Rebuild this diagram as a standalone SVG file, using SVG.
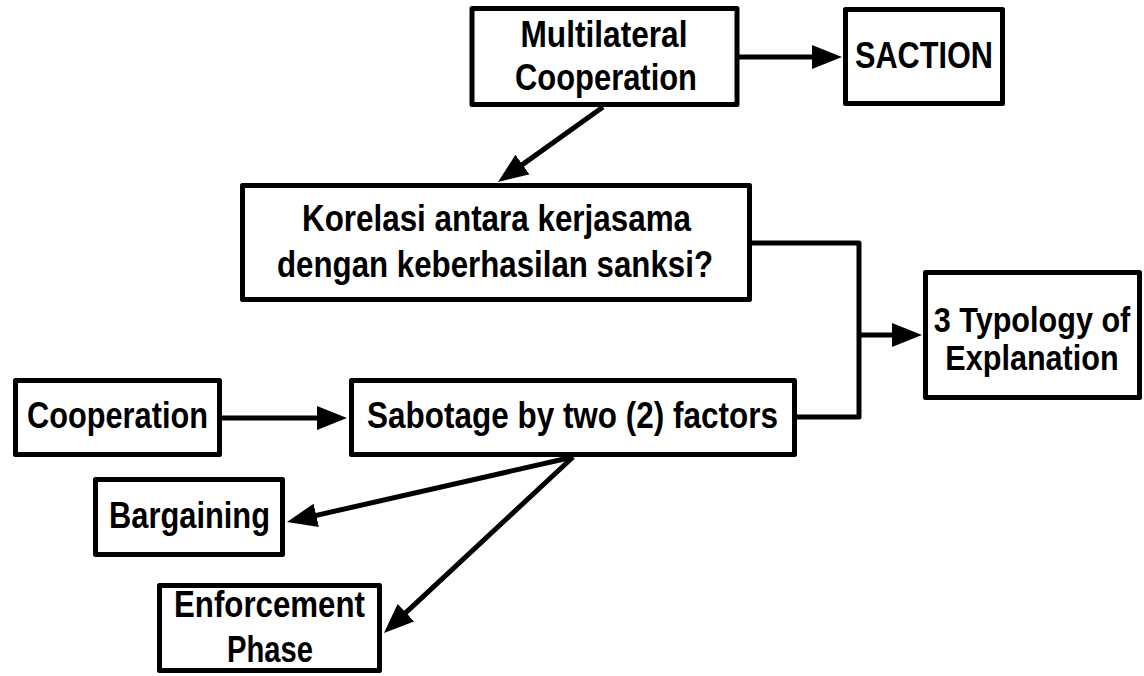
<svg xmlns="http://www.w3.org/2000/svg" width="1144" height="676" viewBox="0 0 1144 676">
<style>
.box{fill:#fff;stroke:#000;stroke-width:5;stroke-linejoin:round}
.lbl{font-family:"Liberation Sans",Arial,sans-serif;font-weight:bold;font-size:36px;fill:#000;text-anchor:middle}
.conn{fill:none;stroke:#000;stroke-width:5;stroke-linejoin:round}
</style>
<defs>
<marker id="ah" markerUnits="userSpaceOnUse" markerWidth="32" markerHeight="26" refX="10" refY="12" orient="auto">
<path d="M0,0 L30,12 L0,24 Z" fill="#000"/>
</marker>
</defs>
<rect width="1144" height="676" fill="#fff"/>
<g id="connectors">
<line class="conn" x1="739" y1="57" x2="822" y2="57" marker-end="url(#ah)"/>
<line class="conn" x1="603" y1="107" x2="514.3" y2="170.4" marker-end="url(#ah)"/>
<polyline class="conn" points="752,243 859,243 859,417 797,417"/>
<line class="conn" x1="859" y1="335" x2="902" y2="335" marker-end="url(#ah)"/>
<line class="conn" x1="222" y1="418" x2="327" y2="418" marker-end="url(#ah)"/>
<line class="conn" x1="573" y1="457" x2="306.5" y2="517.6" marker-end="url(#ah)"/>
<line class="conn" x1="573" y1="457" x2="398.6" y2="619.4" marker-end="url(#ah)"/>
</g>
<g id="node-multilateral">
<rect class="box" x="472" y="8.5" width="265" height="96"/>
<text class="lbl" x="604" y="47" textLength="167" lengthAdjust="spacingAndGlyphs">Multilateral</text>
<text class="lbl" x="606" y="90" textLength="182" lengthAdjust="spacingAndGlyphs">Cooperation</text>
</g>
<g id="node-saction">
<rect class="box" x="845.5" y="9.5" width="157" height="94"/>
<text class="lbl" x="924" y="68" textLength="138" lengthAdjust="spacingAndGlyphs">SACTION</text>
</g>
<g id="node-korelasi">
<rect class="box" x="242.5" y="185.5" width="507" height="114"/>
<text class="lbl" x="496.5" y="231" textLength="389" lengthAdjust="spacingAndGlyphs">Korelasi antara kerjasama</text>
<text class="lbl" x="495" y="277" textLength="436" lengthAdjust="spacingAndGlyphs">dengan keberhasilan sanksi?</text>
</g>
<g id="node-typology">
<rect class="box" x="925.5" y="272.5" width="214" height="125"/>
<g transform="translate(1032,0) scale(0.85,1)">
<text class="lbl" x="0" y="332">3 Typology of</text>
<text class="lbl" x="0" y="370">Explanation</text>
</g>
</g>
<g id="node-cooperation">
<rect class="box" x="15.5" y="380.5" width="204" height="74"/>
<text class="lbl" x="117.5" y="428" textLength="181" lengthAdjust="spacingAndGlyphs">Cooperation</text>
</g>
<g id="node-sabotage">
<rect class="box" x="351.5" y="380.5" width="443" height="74"/>
<text class="lbl" x="572.5" y="428" textLength="411" lengthAdjust="spacingAndGlyphs">Sabotage by two (2) factors</text>
</g>
<g id="node-bargaining">
<rect class="box" x="95.5" y="479.5" width="187" height="75"/>
<text class="lbl" x="189.5" y="528" textLength="161" lengthAdjust="spacingAndGlyphs">Bargaining</text>
</g>
<g id="node-enforcement">
<rect class="box" x="159.5" y="585.5" width="220" height="85"/>
<text class="lbl" x="269.5" y="617" textLength="191" lengthAdjust="spacingAndGlyphs">Enforcement</text>
<text class="lbl" x="270" y="662" textLength="86" lengthAdjust="spacingAndGlyphs">Phase</text>
</g>
</svg>
